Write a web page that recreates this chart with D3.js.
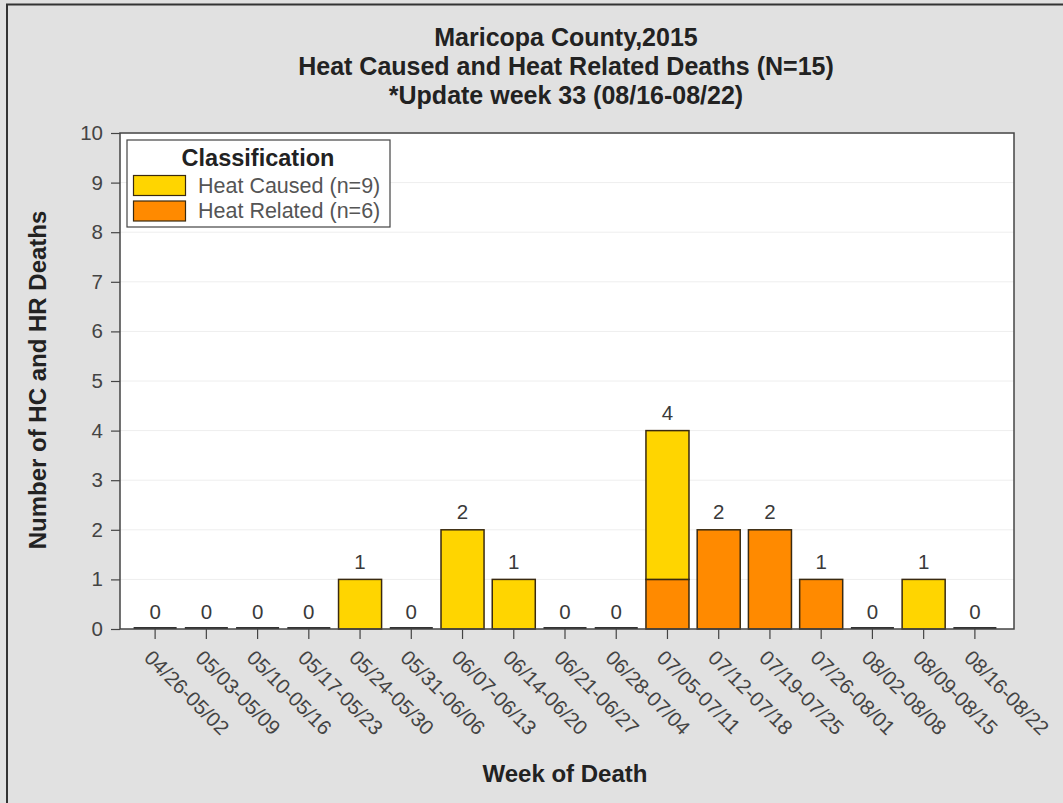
<!DOCTYPE html>
<html><head><meta charset="utf-8">
<script src="https://cdn.jsdelivr.net/npm/d3@7"></script>
<style>body{margin:0;background:#e1e1e1;} svg{display:block;font-family:Arial,"Liberation Sans",sans-serif;}</style>
</head><body>
<svg id="c" width="1063" height="803"></svg>
<script>
const weeks = ["04/26-05/02","05/03-05/09","05/10-05/16","05/17-05/23","05/24-05/30","05/31-06/06","06/07-06/13","06/14-06/20","06/21-06/27","06/28-07/04","07/05-07/11","07/12-07/18","07/19-07/25","07/26-08/01","08/02-08/08","08/09-08/15","08/16-08/22"];
const heatRelated = [0,0,0,0,0,0,0,0,0,0,1,2,2,1,0,0,0];
const heatCaused  = [0,0,0,0,1,0,2,1,0,0,3,0,0,0,0,1,0];
const yTicks = [0,1,2,3,4,5,6,7,8,9,10];
const titleLines = ["Maricopa County,2015","Heat Caused and Heat Related Deaths (N=15)","*Update week 33 (08/16-08/22)"];
const legendItems = ["Heat Caused (n=9)","Heat Related (n=6)"];
const colors = {caused:"#FFD500", related:"#FF8A00"};

const FONT = "Arial,'Liberation Sans',sans-serif";
const svg = d3.select("#c");
const W = 1063, H = 803;
svg.append("rect").attr("width",W).attr("height",H).attr("fill","#e1e1e1");
svg.append("line").attr("x1",6).attr("x2",W).attr("y1",4.5).attr("y2",4.5).attr("stroke","#333").attr("stroke-width",2);
svg.append("line").attr("x1",7).attr("x2",7).attr("y1",4).attr("y2",H).attr("stroke","#333").attr("stroke-width",2);

const L=120, R=1014, T=133, B=629;
const x = d3.scaleBand().domain(weeks).range([129.5,1000.5]).paddingInner(0.16).paddingOuter(0.08);
const y = d3.scaleLinear().domain([0,10]).range([B,T]);

svg.append("rect").attr("x",L).attr("y",T).attr("width",R-L).attr("height",B-T).attr("fill","#fff");
svg.append("g").selectAll("line").data(yTicks.slice(1)).join("line")
  .attr("x1",L).attr("x2",R).attr("y1",d=>y(d)).attr("y2",d=>y(d))
  .attr("stroke","#eeeeee").attr("stroke-width",1);

const stackData = weeks.map((w,i)=>({w, related:heatRelated[i], caused:heatCaused[i]}));
const series = d3.stack().keys(["related","caused"])(stackData);
const g = svg.append("g");
series.forEach(s=>{
  g.selectAll(null).data(s.filter(d=>d[1]-d[0]>0)).join("rect")
    .attr("x",d=>x(d.data.w)).attr("width",x.bandwidth())
    .attr("y",d=>y(d[1])).attr("height",d=>y(d[0])-y(d[1]))
    .attr("fill",colors[s.key]).attr("stroke","#3a2a10").attr("stroke-width",1.5);
});
g.selectAll(null).data(stackData.filter(d=>d.related+d.caused===0)).join("line")
  .attr("x1",d=>x(d.w)).attr("x2",d=>x(d.w)+x.bandwidth())
  .attr("y1",B-1).attr("y2",B-1).attr("stroke","#333").attr("stroke-width",2);
g.selectAll(null).data(stackData).join("text")
  .attr("x",d=>x(d.w)+x.bandwidth()/2).attr("y",d=>y(d.related+d.caused)-10.5)
  .attr("text-anchor","middle").attr("font-size",20.5).attr("fill","#3a3a3a")
  .text(d=>d.related+d.caused);

svg.append("rect").attr("x",L).attr("y",T).attr("width",R-L).attr("height",B-T).attr("fill","none").attr("stroke","#444").attr("stroke-width",1.5);

const ya = svg.append("g").attr("transform",`translate(${L},0)`)
  .call(d3.axisLeft(y).tickValues(yTicks).tickSize(9).tickPadding(8));
ya.select(".domain").remove();
ya.selectAll("line").attr("stroke","#444").attr("stroke-width",1.2);
ya.selectAll("text").attr("font-size",20.5).attr("fill","#444").attr("font-family",FONT);

const xa = svg.append("g").attr("transform",`translate(0,${B})`)
  .call(d3.axisBottom(x).tickSize(10).tickSizeOuter(0));
xa.select(".domain").remove();
xa.selectAll("line").attr("stroke","#444").attr("stroke-width",1.2);
xa.selectAll("text").attr("font-size",20.5).attr("fill","#444")
  .attr("font-family",FONT)
  .attr("text-anchor","start").attr("dy",null).attr("y",0)
  .attr("transform","translate(-12,30) rotate(45)");

svg.append("g").selectAll("text").data(titleLines).join("text")
  .attr("x",566).attr("y",(d,i)=>46+i*29).attr("text-anchor","middle")
  .attr("font-size",25).attr("font-weight","bold").attr("fill","#222").text(d=>d);

svg.append("text").attr("transform","translate(46,380) rotate(-90)").attr("text-anchor","middle")
  .attr("font-size",24).attr("font-weight","bold").attr("fill","#222").text("Number of HC and HR Deaths");
svg.append("text").attr("x",565).attr("y",782).attr("text-anchor","middle")
  .attr("font-size",24).attr("font-weight","bold").attr("fill","#222").text("Week of Death");

const lg = svg.append("g");
lg.append("rect").attr("x",127).attr("y",140).attr("width",263).attr("height",87).attr("fill","#fff").attr("stroke","#444").attr("stroke-width",1.2);
lg.append("text").attr("x",258).attr("y",166).attr("text-anchor","middle").attr("font-size",23.5).attr("font-weight","bold").attr("fill","#222").text("Classification");
const lc = [colors.caused, colors.related];
lg.selectAll("rect.sw").data(legendItems).join("rect").attr("class","sw")
  .attr("x",133.5).attr("y",(d,i)=>175.5+i*25.5).attr("width",52).attr("height",20)
  .attr("fill",(d,i)=>lc[i]).attr("stroke","#3a2a10").attr("stroke-width",1.2);
lg.selectAll("text.it").data(legendItems).join("text").attr("class","it")
  .attr("x",198).attr("y",(d,i)=>193+i*25).attr("font-size",21.5).attr("fill","#555").text(d=>d);
</script>
</body></html>
